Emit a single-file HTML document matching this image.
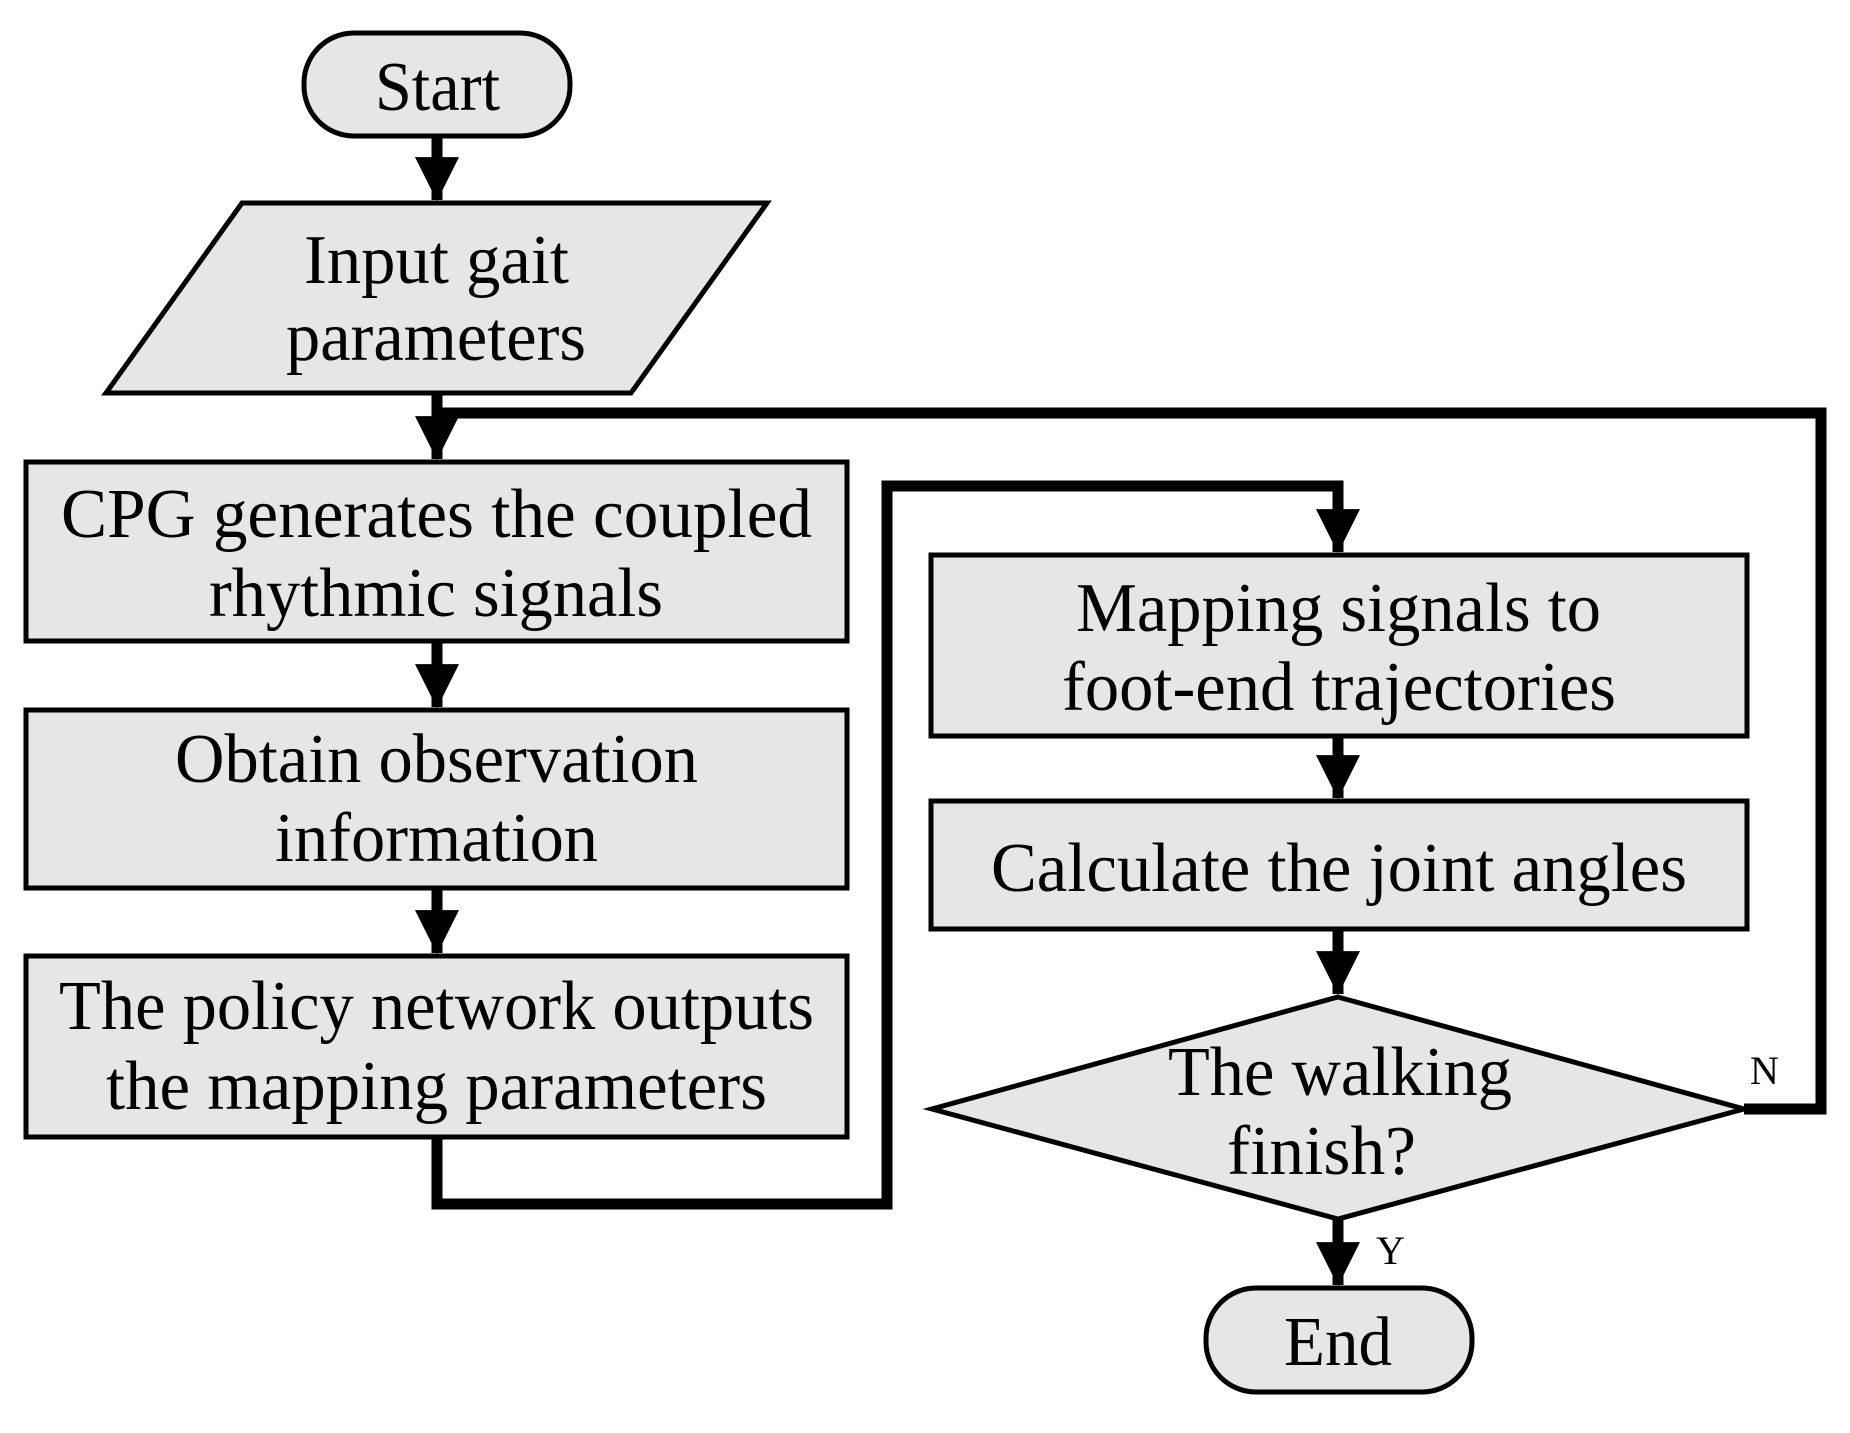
<!DOCTYPE html>
<html><head><meta charset="utf-8"><style>html,body{margin:0;padding:0;background:#fff}svg{display:block}</style></head>
<body>
<svg width="1850" height="1433" viewBox="0 0 1850 1433" xmlns="http://www.w3.org/2000/svg" font-family="Liberation Serif, serif" font-size="70" fill="#000">
<defs>
<marker id="a" markerWidth="4" markerHeight="4" refX="3.9" refY="2" orient="auto" markerUnits="strokeWidth"><path d="M0,0 L4,2 L0,4 Z" fill="#000"/></marker>
</defs>
<g fill="#e6e6e6" stroke="#000" stroke-width="5">
<rect x="304" y="33" width="266" height="103" rx="50"/>
<polygon points="242,203 767,203 631,393 106,393"/>
<rect x="26" y="462" width="821" height="179"/>
<rect x="26" y="710" width="821" height="178"/>
<rect x="26" y="956" width="821" height="181"/>
<rect x="931" y="555" width="816" height="181"/>
<rect x="931" y="801" width="816" height="128"/>
<polygon points="1338,997 1744,1109 1338,1219 932,1109"/>
<rect x="1206" y="1288" width="266" height="104" rx="50"/>
</g>
<g stroke="#000" stroke-width="11" fill="none" stroke-linejoin="miter">
<line x1="437" y1="136" x2="437" y2="200" marker-end="url(#a)"/>
<line x1="437" y1="393" x2="437" y2="459" marker-end="url(#a)"/>
<line x1="437" y1="641" x2="437" y2="707" marker-end="url(#a)"/>
<line x1="437" y1="888" x2="437" y2="953" marker-end="url(#a)"/>
<polyline points="437,1137 437,1204 887,1204 887,486 1338,486 1338,552" marker-end="url(#a)"/>
<line x1="1338" y1="736" x2="1338" y2="798" marker-end="url(#a)"/>
<line x1="1338" y1="929" x2="1338" y2="994" marker-end="url(#a)"/>
<line x1="1338" y1="1219" x2="1338" y2="1285" marker-end="url(#a)"/>
<polyline points="1744,1109 1821,1109 1821,413 437,413"/>
</g>
<g>
<text x="375" y="110" textLength="125" lengthAdjust="spacingAndGlyphs">Start</text>
<text x="304" y="283" textLength="265" lengthAdjust="spacingAndGlyphs">Input gait</text>
<text x="286" y="360" textLength="300" lengthAdjust="spacingAndGlyphs">parameters</text>
<text x="61" y="537" textLength="751" lengthAdjust="spacingAndGlyphs">CPG generates the coupled</text>
<text x="209" y="616" textLength="454" lengthAdjust="spacingAndGlyphs">rhythmic signals</text>
<text x="175" y="782" textLength="523" lengthAdjust="spacingAndGlyphs">Obtain observation</text>
<text x="275" y="861" textLength="323" lengthAdjust="spacingAndGlyphs">information</text>
<text x="59" y="1029" textLength="755" lengthAdjust="spacingAndGlyphs">The policy network outputs</text>
<text x="106" y="1109" textLength="661" lengthAdjust="spacingAndGlyphs">the mapping parameters</text>
<text x="1076" y="631" textLength="525" lengthAdjust="spacingAndGlyphs">Mapping signals to</text>
<text x="1062" y="710" textLength="554" lengthAdjust="spacingAndGlyphs">foot-end trajectories</text>
<text x="991" y="891" textLength="696" lengthAdjust="spacingAndGlyphs">Calculate the joint angles</text>
<text x="1168" y="1095" textLength="344" lengthAdjust="spacingAndGlyphs">The walking</text>
<text x="1227" y="1174" textLength="189" lengthAdjust="spacingAndGlyphs">finish?</text>
<text x="1284" y="1365" textLength="108" lengthAdjust="spacingAndGlyphs">End</text>
<text x="1750" y="1084" font-size="40">N</text>
<text x="1376" y="1264" font-size="40">Y</text>
</g>
</svg>
</body></html>
